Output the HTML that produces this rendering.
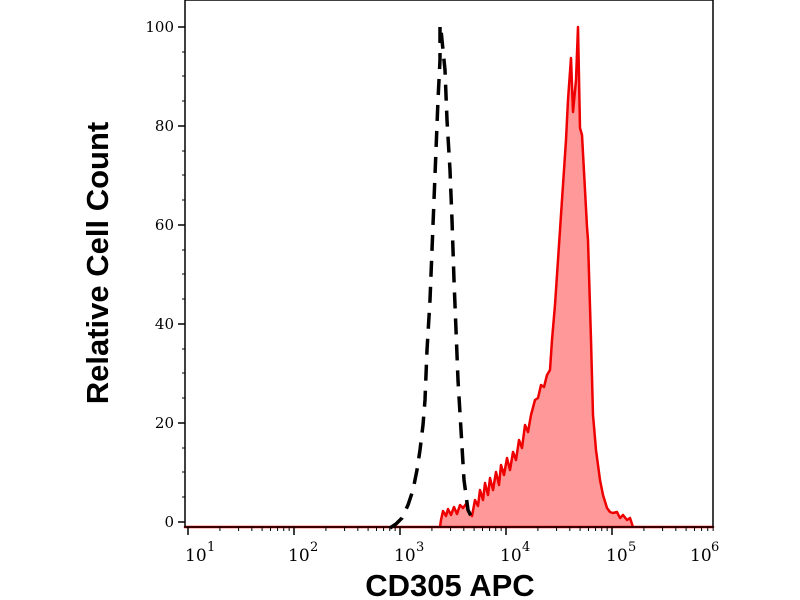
<!DOCTYPE html>
<html><head><meta charset="utf-8"><style>
body{margin:0;background:#fff}
svg{display:block}
.t{font-family:"DejaVu Serif","Liberation Serif",serif;font-size:15px}
.e{font-family:"DejaVu Serif","Liberation Serif",serif;font-size:17px}
.s{font-family:"DejaVu Serif","Liberation Serif",serif;font-size:13px}
.b{font-family:"Liberation Sans",sans-serif;font-weight:bold;font-size:31px}
</style></head><body>
<svg width="800" height="600" viewBox="0 0 800 600">
<rect width="800" height="600" fill="#fff"/>
<path d="M185,527 L440,527 L441,520 L443,511 L446,516 L448,509 L451,515 L454,507 L457,514 L460,505 L463,508 L466,504 L469,512 L472,516 L475,500 L478,506 L480,490 L483,500 L485,483 L488,495 L490,478 L493,490 L496,472 L499,485 L501,465 L504,475 L507,458 L510,470 L513,452 L516,460 L519,440 L522,448 L525,425 L528,432 L531,415 L535,400 L538,398 L541,385 L544,387 L547,375 L550,370 L552,340 L555,305 L558,260 L561,215 L564,170 L566,140 L568,100 L571,58 L573,112 L576,80 L578,27 L580,128 L582,135 L585,190 L587,227 L588,240 L591,340 L593,415 L596,450 L600,480 L603,495 L607,508 L610,512 L613,513 L617,512 L620,518 L623,515 L627,520 L630,518 L633,527 L713,527 Z" fill="#f99" stroke="#e00" stroke-width="2.5" stroke-linejoin="round"/>
<path d="M390,528 L396,524 L402,518 L408,505 L413,490 L417,470 L420,450 L423,425 L425,400 L427,350 L430,300 L432,250 L434,200 L436,150 L438,100 L440,60 L440,25 L441,30 L445,70 L447,120 L450,170 L452,220 L454,280 L456,330 L458,380 L461,430 L464,480 L468,510 L472,518 L478,521" fill="none" stroke="#000" stroke-width="3.5" stroke-dasharray="16,10"/>
<path d="M185,0 L713,0 L713,527 L185,527 Z" stroke="#000" stroke-width="1.5" fill="none"/>
<g stroke="#000" stroke-width="1.5">
<line x1="178" y1="522" x2="185" y2="522"/><line x1="178" y1="423" x2="185" y2="423"/><line x1="178" y1="324" x2="185" y2="324"/><line x1="178" y1="225" x2="185" y2="225"/><line x1="178" y1="126" x2="185" y2="126"/><line x1="178" y1="27" x2="185" y2="27"/>
</g>
<g stroke="#000" stroke-width="1">
<line x1="182" y1="497" x2="185" y2="497"/><line x1="182" y1="472" x2="185" y2="472"/><line x1="182" y1="448" x2="185" y2="448"/>
<line x1="182" y1="398" x2="185" y2="398"/><line x1="182" y1="373" x2="185" y2="373"/><line x1="182" y1="349" x2="185" y2="349"/>
<line x1="182" y1="299" x2="185" y2="299"/><line x1="182" y1="274" x2="185" y2="274"/><line x1="182" y1="250" x2="185" y2="250"/>
<line x1="182" y1="200" x2="185" y2="200"/><line x1="182" y1="175" x2="185" y2="175"/><line x1="182" y1="151" x2="185" y2="151"/>
<line x1="182" y1="101" x2="185" y2="101"/><line x1="182" y1="76" x2="185" y2="76"/><line x1="182" y1="52" x2="185" y2="52"/>
</g>
<g id="xt" stroke="#000"></g>
<g fill="#000" text-anchor="end">
<text class="t" x="174" y="527">0</text><text class="t" x="174" y="428">20</text><text class="t" x="174" y="329">40</text><text class="t" x="174" y="230">60</text><text class="t" x="174" y="131">80</text><text class="t" x="174" y="32">100</text>
</g>
<g fill="#000">
<text class="e" x="185" y="561">10</text><text class="s" x="207" y="551">1</text>
<text class="e" x="288" y="561">10</text><text class="s" x="310" y="551">2</text>
<text class="e" x="394" y="561">10</text><text class="s" x="416" y="551">3</text>
<text class="e" x="500" y="561">10</text><text class="s" x="522" y="551">4</text>
<text class="e" x="606" y="561">10</text><text class="s" x="628" y="551">5</text>
<text class="e" x="690" y="561">10</text><text class="s" x="711" y="551">6</text>
</g>
<text class="b" x="450" y="596" text-anchor="middle">CD305 APC</text>
<text class="b" transform="translate(108,263) rotate(-90)" text-anchor="middle">Relative Cell Count</text>
</svg>
<script>
var g=document.getElementById('xt'),s='';
for(var d=0;d<6;d++){for(var m=1;m<10;m++){var x=188+106*(d+Math.log10(m));if(x<185||x>714)continue;var L=m==1?8:4;s+='<line x1="'+x+'" y1="527" x2="'+x+'" y2="'+(527+L)+'" stroke-width="'+(m==1?1.5:1)+'"/>';}}
g.innerHTML=s;
</script>
</body></html>
